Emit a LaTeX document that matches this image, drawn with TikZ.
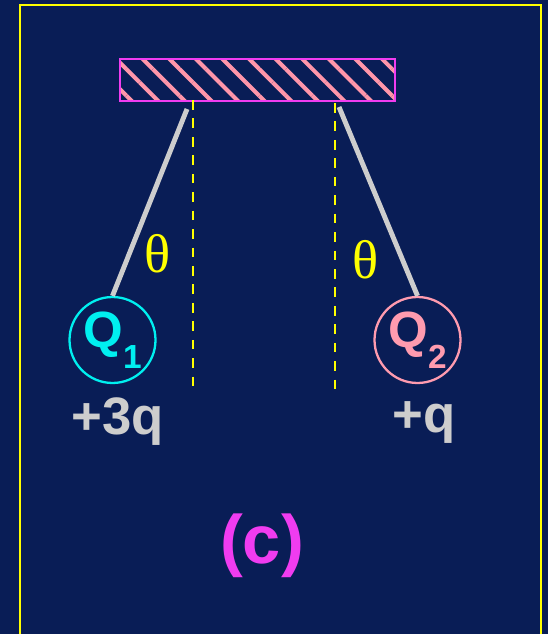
\documentclass[tikz,border=0pt]{standalone}
\usepackage{fontspec}
\setmainfont{Liberation Sans}
\newfontfamily\thetafont{Liberation Serif}
\usetikzlibrary{patterns.meta}
\definecolor{navybg}{RGB}{9,29,86}
\definecolor{framey}{RGB}{255,255,0}
\definecolor{barpink}{RGB}{255,150,170}
\definecolor{barmag}{RGB}{240,60,240}
\definecolor{qcyan}{RGB}{0,240,240}
\definecolor{qpink}{RGB}{255,155,175}
\definecolor{strgray}{RGB}{205,205,205}

\begin{document}
\begin{tikzpicture}[
    x=0.02cm, y=-0.02cm,
    charge/.style={draw, circle, line width=1.3pt, minimum size=1.72cm,
                   inner sep=0pt, font=\fontsize{29}{29}\selectfont\bfseries},
    string/.style={strgray, line width=2.8pt},
    plumb/.style={framey, line width=1.4pt, dash pattern=on 5.5pt off 5pt},
    value/.style={strgray, anchor=base, font=\fontsize{30}{30}\selectfont\bfseries},
    angle/.style={framey, font=\fontsize{31}{31}\thetafont}
  ]
    \useasboundingbox (0,0) rectangle (548,634);
    \fill[navybg] (0,0) rectangle (548,634);

    %% frame
    \draw[framey, line width=1.6pt] (20,640) -- (20,5) -- (541,5) -- (541,640);

    %% support bar
    \node[draw=barmag, line width=1.6pt, minimum width=5.5cm, minimum height=0.84cm,
          inner sep=0pt, anchor=north west,
          pattern={Lines[angle=-45, distance=10.7pt, line width=2.3pt]},
          pattern color=barpink] (bar) at (118,57) {};

    %% charges
    \node[charge, qcyan] (q1) at (112.5,340)
      {Q\raisebox{-12pt}{\fontsize{19}{19}\selectfont 1}};
    \node[charge, qpink] (q2) at (417.5,340)
      {Q\raisebox{-12pt}{\fontsize{19}{19}\selectfont 2}};

    %% hanging points and verticals
    \coordinate (lhook) at (187,109);
    \coordinate (rhook) at (339,107);
    \coordinate (ltop) at (193,100);
    \coordinate (lbot) at (193,392);
    \coordinate (rtop) at (335,103);
    \coordinate (rbot) at (335,392);

    \draw[plumb] (ltop) -- (lbot);
    \draw[plumb] (rtop) -- (rbot);
    \draw[string] (lhook) -- (q1.north);
    \draw[string] (rhook) -- (q2.north);

    %% labels
    \node[angle] (thl) at (158,254) {θ};
    \node[angle] (thr) at (366,260) {θ};
    \node[value] (v1) at (118,434) {+3q};
    \node[value] (v2) at (424,432) {+q};
    \node[barmag, font=\fontsize{39}{39}\selectfont\bfseries] (cap) at (262,546) {(c)};
\end{tikzpicture}
\end{document}
